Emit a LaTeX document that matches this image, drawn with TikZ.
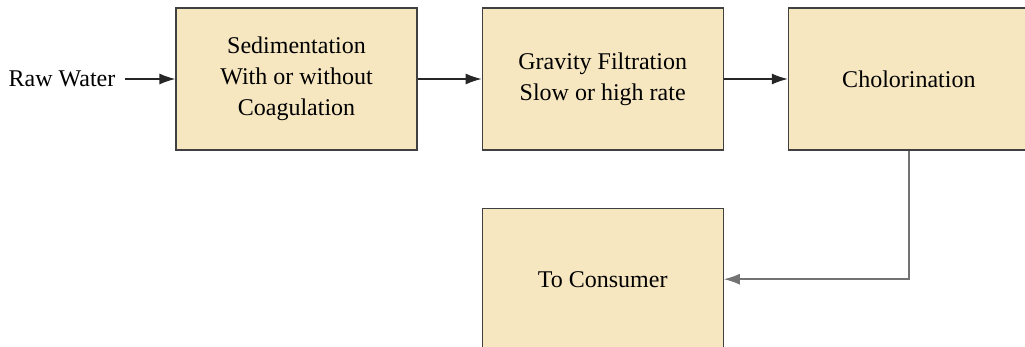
\documentclass[tikz,border=0pt]{standalone}
\usepackage{fontspec}
\setmainfont{Liberation Serif}
\usetikzlibrary{positioning,arrows.meta}

\begin{document}
\begin{tikzpicture}[x=1pt, y=1pt, >={Latex[length=16pt,width=11pt]},
    stage/.style={draw=black!75, line width=1.2pt, fill=boxfill,
        minimum width=241pt, minimum height=142pt, align=center,
        font=\fontsize{24}{31}\selectfont},
    flow/.style={->, line width=1.2pt, draw=black!85}]
    \definecolor{boxfill}{HTML}{F6E7C1}
    \useasboundingbox (0,0) rectangle (1025,-347);

    % treatment stages
    \node[stage] (sed) at (296.5,-79) {Sedimentation\\With or without\\Coagulation};
    \node[stage, right=64pt of sed] (grav) {Gravity Filtration\\Slow or high rate};
    \node[stage, right=64pt of grav] (chl) {Cholorination};
    \node[stage, below=57pt of grav] (cons) {To Consumer};

    % input
    \node[font=\fontsize{24}{31}\selectfont, inner sep=0pt] (raw) at (62,-79) {Raw Water};

    % connectors
    \draw[flow] ([xshift=9pt]raw.east) -- (sed.west);
    \draw[flow] (sed.east) -- (grav.west);
    \draw[flow] (grav.east) -- (chl.west);
    \draw[flow, draw=black!55, line width=1.5pt] (chl.south) |- (cons.east);
\end{tikzpicture}
\end{document}
